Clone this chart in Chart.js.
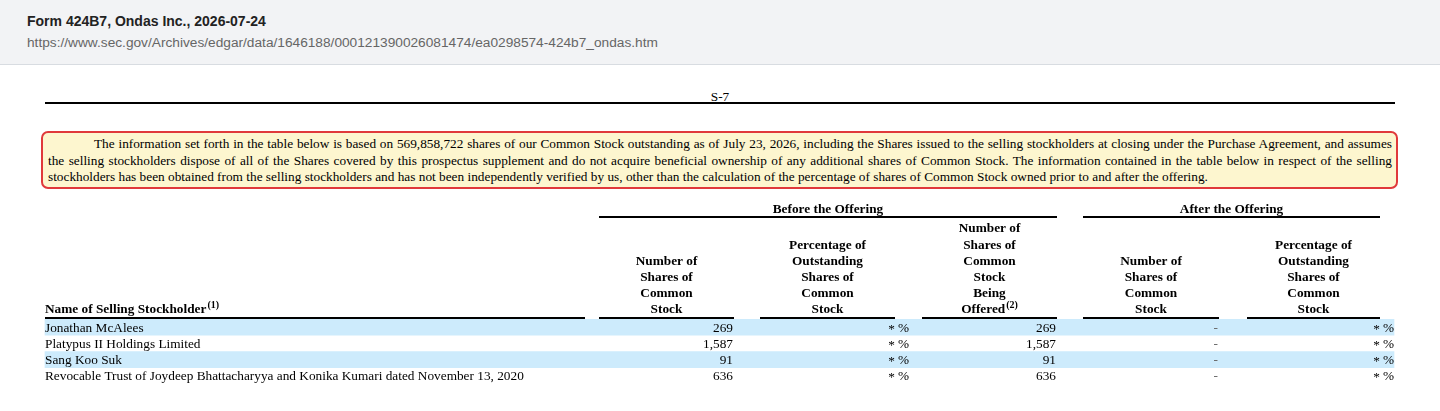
<!DOCTYPE html>
<html lang="en">
<head>
    <meta charset="UTF-8">
    <title>Form 424B7, Ondas Inc. - Selling Stockholders</title>
    <script src="https://cdn.jsdelivr.net/npm/chart.js"></script>
    <style>
        body {
            margin: 0;
            width: 1440px;
            height: 411px;
            overflow: hidden;
            background: #fff;
            position: relative;
        }
        .topbar {
            position: absolute;
            left: 0; top: 0;
            width: 1440px; height: 64px;
            background: #f2f3f5;
            border-bottom: 1px solid #d8dce1;
            font-family: "Liberation Sans", Arial, sans-serif;
        }
        .topbar .title {
            position: absolute; left: 27px; top: 12px;
            font-size: 14px; font-weight: bold; color: #222;
            line-height: 18px;
        }
        .topbar .url {
            position: absolute; left: 27px; top: 34px;
            font-size: 13.7px; color: #666;
            line-height: 18px;
        }
        .pageno {
            position: absolute; left: 0; top: 89px; width: 1440px;
            text-align: center;
            font: 13.3px "Liberation Serif", "Times New Roman", serif;
            line-height: 16px;
        }
        .rule {
            position: absolute; left: 45px; top: 102px;
            width: 1350px; height: 2px; background: #000;
        }
        .note {
            position: absolute; left: 41px; top: 131px;
            width: 1357px; height: 58px;
            box-sizing: border-box;
            border: 2px solid #e0393b;
            border-radius: 7px;
            background: #fdf6cf;
            padding: 3px 4px 0 5px;
            font: 13.3px "Liberation Serif", "Times New Roman", serif;
            line-height: 16.5px;
            color: #000;
        }
        .note div { text-align: justify; text-align-last: justify; white-space: nowrap; }
        .note div.first { text-indent: 46px; }
        .note div.last { text-align-last: left; }
        #tableChart {
            position: absolute; left: 0; top: 195px;
        }
    </style>
</head>
<body>
    <div class="topbar">
        <div class="title">Form 424B7, Ondas Inc., 2026-07-24</div>
        <div class="url">https://www.sec.gov/Archives/edgar/data/1646188/000121390026081474/ea0298574-424b7_ondas.htm</div>
    </div>
    <div class="pageno">S-7</div>
    <div class="rule"></div>
    <div class="note">
        <div class="first">The information set forth in the table below is based on 569,858,722 shares of our Common Stock outstanding as of July 23, 2026, including the Shares issued to the selling stockholders at closing under the Purchase Agreement, and assumes</div>
        <div>the selling stockholders dispose of all of the Shares covered by this prospectus supplement and do not acquire beneficial ownership of any additional shares of Common Stock. The information contained in the table below in respect of the selling</div>
        <div class="last">stockholders has been obtained from the selling stockholders and has not been independently verified by us, other than the calculation of the percentage of shares of Common Stock owned prior to and after the offering.</div>
    </div>

    <canvas id="tableChart" width="1440" height="216"></canvas>

    <script>
        // table data
        const stockholders = [
            "Jonathan McAlees",
            "Platypus II Holdings Limited",
            "Sang Koo Suk",
            "Revocable Trust of Joydeep Bhattacharyya and Konika Kumari dated November 13, 2020"
        ];
        const sharesBefore = [269, 1587, 91, 636];
        const pctBefore = ["*", "*", "*", "*"];
        const sharesOffered = [269, 1587, 91, 636];
        const sharesAfter = ["-", "-", "-", "-"];
        const pctAfter = ["*", "*", "*", "*"];
        const shadedRows = [true, false, true, false];

        // column headers
        const groupHeaders = ["Before the Offering", "After the Offering"];
        const columnHeaders = [
            ["Name of Selling Stockholder"],
            ["Number of", "Shares of", "Common", "Stock"],
            ["Percentage of", "Outstanding", "Shares of", "Common", "Stock"],
            ["Number of", "Shares of", "Common", "Stock", "Being", "Offered"],
            ["Number of", "Shares of", "Common", "Stock"],
            ["Percentage of", "Outstanding", "Shares of", "Common", "Stock"]
        ];
        const headerNotes = ["(1)", null, null, "(2)", null, null];

        // layout (page pixels along x)
        const colEdges = [[45, 585], [599, 734], [760, 895], [922, 1057], [1083, 1219], [1247, 1380]];
        const groupEdges = [[599, 1057], [1083, 1380]];
        const bandEdges = [45, 1394];

        const SERIF = '"Liberation Serif", "Times New Roman", serif';
        const FONT = "13.3px " + SERIF;
        const BOLD = "bold 13.3px " + SERIF;
        const SUP = "bold 10px " + SERIF;

        const fmt = v => typeof v === "number" ? v.toLocaleString("en-US") : v;

        function drawSup(ctx, text, sup, x, y, align) {
            ctx.font = BOLD;
            const w = ctx.measureText(text).width;
            ctx.font = SUP;
            const sw = sup ? ctx.measureText(sup).width + 1 : 0;
            let left = x;
            if (align === "center") left = x - (w + sw) / 2;
            ctx.textAlign = "left";
            ctx.font = BOLD;
            ctx.fillText(text, left, y);
            if (sup) {
                ctx.font = SUP;
                ctx.fillText(sup, left + w + 1, y - 5);
            }
        }

        const tablePlugin = {
            id: "tableText",
            afterDatasetsDraw(chart) {
                const ctx = chart.ctx;
                const xs = chart.scales.x;
                const ys = chart.scales.y;
                const top = chart.chartArea.top;
                const px = v => xs.getPixelForValue(v);
                ctx.save();
                ctx.fillStyle = "#000";
                ctx.textBaseline = "middle";

                // group headings with rules
                groupHeaders.forEach((g, i) => {
                    const [l, r] = groupEdges[i];
                    ctx.font = BOLD;
                    ctx.textAlign = "center";
                    ctx.fillText(g, (px(l) + px(r)) / 2, top - 109);
                    ctx.fillRect(px(l), top - 103, px(r) - px(l), 2);
                });

                // column headings, bottom aligned
                columnHeaders.forEach((lines, c) => {
                    const [l, r] = colEdges[c];
                    const n = lines.length;
                    lines.forEach((t, k) => {
                        const y = top - 9 - (n - 1 - k) * 16.2;
                        const sup = k === n - 1 ? headerNotes[c] : null;
                        if (c === 0) drawSup(ctx, t, sup, px(l), y, "left");
                        else drawSup(ctx, t, sup, (px(l) + px(r)) / 2, y, "center");
                    });
                    ctx.fillRect(px(l), top - 2, px(r) - px(l), 2);
                });

                // body cells
                ctx.font = FONT;
                stockholders.forEach((name, i) => {
                    const y = ys.getPixelForValue(i) + 1;
                    ctx.textAlign = "left";
                    ctx.fillText(name, px(colEdges[0][0]), y);

                    ctx.textAlign = "right";
                    ctx.fillText(fmt(sharesBefore[i]), px(colEdges[1][1]) - 1, y);
                    ctx.fillText(fmt(sharesOffered[i]), px(colEdges[3][1]) - 1, y);
                    ctx.fillStyle = "#666";
                    ctx.fillText(fmt(sharesAfter[i]), px(colEdges[4][1]) - 1, y);
                    ctx.fillStyle = "#000";

                    [[pctBefore, 2], [pctAfter, 5]].forEach(([arr, c]) => {
                        ctx.textAlign = "right";
                        ctx.fillText(arr[i], px(colEdges[c][1]), y + 1);
                        ctx.textAlign = "left";
                        ctx.fillText("%", px(colEdges[c][1]) + 3, y);
                    });
                });
                ctx.restore();
            }
        };

        const ctx = document.getElementById("tableChart").getContext("2d");
        const chart = new Chart(ctx, {
            type: "bar",
            data: {
                labels: stockholders,
                datasets: [{
                    label: "row shading",
                    data: shadedRows.map(s => s ? bandEdges : null),
                    backgroundColor: "#cdebfc",
                    borderWidth: 0,
                    barPercentage: 1,
                    categoryPercentage: 1
                }]
            },
            options: {
                indexAxis: "y",
                responsive: false,
                animation: false,
                layout: { padding: { top: 124, bottom: 27, left: 0, right: 0 } },
                scales: {
                    x: { type: "linear", min: 0, max: 1440, display: false },
                    y: { display: false }
                },
                plugins: {
                    legend: { display: false },
                    tooltip: { enabled: false }
                }
            },
            plugins: [tablePlugin]
        });
    </script>
</body>
</html>
